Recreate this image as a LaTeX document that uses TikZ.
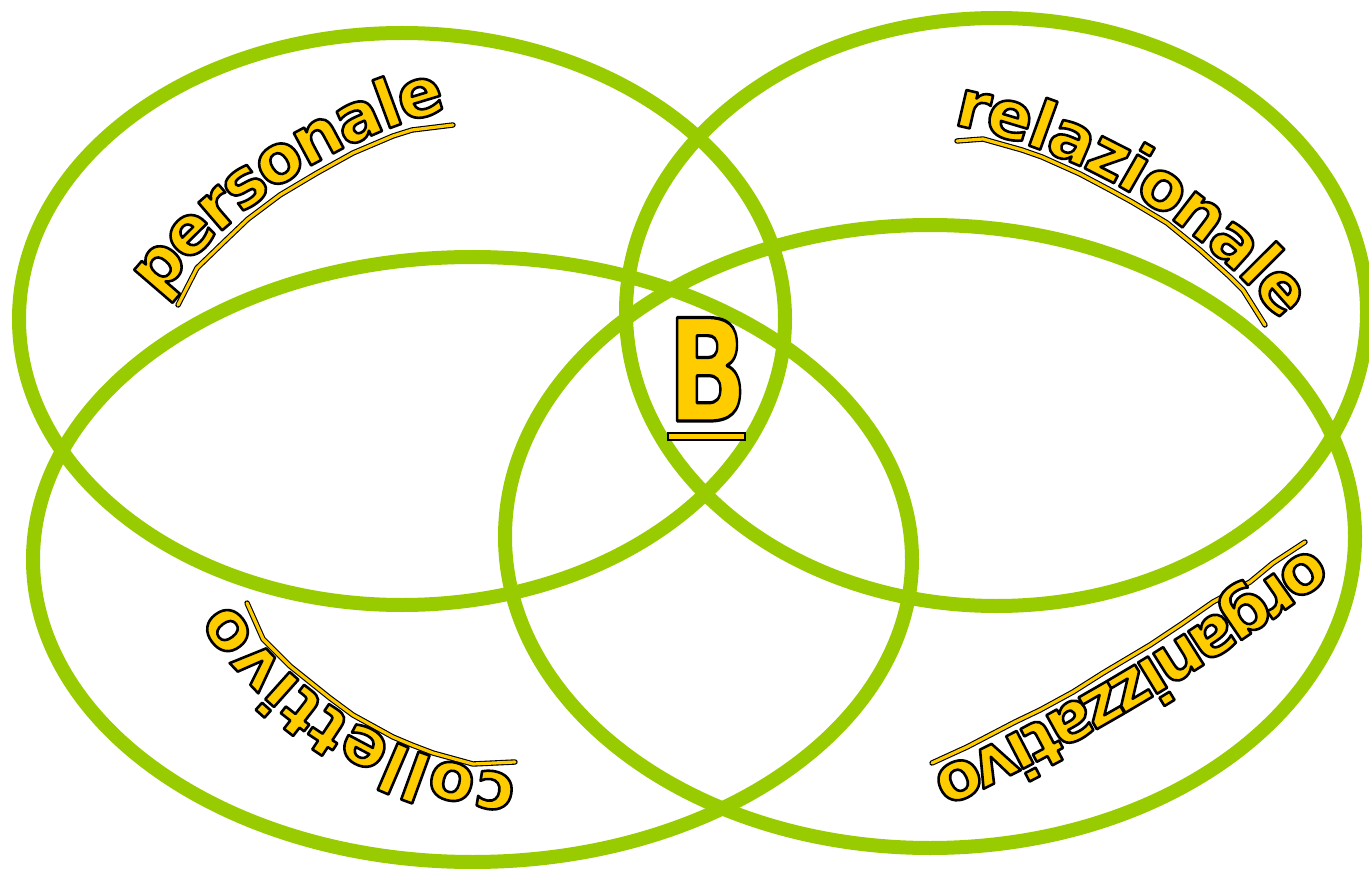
\documentclass[tikz,border=0pt]{standalone}
\usepackage{fontspec}
\newfontfamily\wordfont{DejaVu Sans}
\definecolor{vgreen}{HTML}{99CC00}
\definecolor{ylw}{HTML}{FFCC00}
% filled + stroked text (text render mode 2)
\newcommand\outl[1]{\special{pdf:literal direct 0 0 0 RG 2 Tr #1 w 1 j}}
\newcommand\outloff{\special{pdf:literal direct 0 Tr}}
\newcommand\awsel{\wordfont\bfseries\fontsize{67}{67}\selectfont}
% advance widths (em) of DejaVu Sans Bold
\makeatletter
\def\awdef#1#2{\expandafter\def\csname awwd@#1\endcsname{#2}}
\awdef{a}{0.675}\awdef{c}{0.593}\awdef{e}{0.678}\awdef{g}{0.716}
\awdef{i}{0.343}\awdef{l}{0.343}\awdef{n}{0.712}\awdef{o}{0.687}
\awdef{p}{0.716}\awdef{r}{0.493}\awdef{s}{0.595}\awdef{t}{0.478}
\awdef{v}{0.652}\awdef{z}{0.560}
\newcommand\awwidth[1]{\csname awwd@#1\endcsname}
\makeatother
% #1 cx, #2 cy, #3 baseline radius, #4 angle of first letter, #5 angle of last letter, #6 letters, #7 name prefix
\newcommand\arcword[7]{%
  \gdef\awW{0}%
  \foreach \awc [count=\awk] in {#6}{%
    \edef\awcw{\awwidth{\awc}}%
    \ifnum\awk=1 \xdef\awfirst{\awcw}\fi
    \xdef\awlast{\awcw}%
    \pgfmathsetmacro\awtmp{\awW+\awcw}\xdef\awW{\awtmp}%
  }%
  \pgfmathsetmacro\awca{\awfirst/2}%
  \pgfmathsetmacro\awcb{\awW-\awlast/2}%
  \gdef\awS{0}%
  \foreach \awc [count=\awk] in {#6}{%
    \edef\awcw{\awwidth{\awc}}%
    \pgfmathsetmacro\awang{#4+(\awS+\awcw/2-\awca)/(\awcb-\awca)*(#5-#4)}%
    \pgfmathsetmacro\awx{#1+#3*cos(\awang)}%
    \pgfmathsetmacro\awy{#2+#3*sin(\awang)}%
    \pgfmathsetmacro\awrot{-\awang-90}%
    \node[letter,rotate=\awrot] (#7\awk) at (\awx,\awy) {\outl{2.6}\awc\outloff};
    \pgfmathsetmacro\awtmp{\awS+\awcw}\xdef\awS{\awtmp}%
  }%
}
\begin{document}
\begin{tikzpicture}[x=1pt,y=-1pt,
  ring/.style={draw=vgreen, line width=14pt},
  letter/.style={anchor=base, inner sep=0pt, text=ylw, font=\awsel},
  pathline/.style={draw=black, line width=1.1pt, double=ylw, double distance=3.2pt, line join=round, line cap=round}]
\path[fill=white, use as bounding box] (0,0) rectangle (1369,869);
% four rings
\draw[ring] (402,319) ellipse [x radius=383pt, y radius=286pt];
\draw[ring] (996.5,312) ellipse [x radius=370.5pt, y radius=294pt];
\draw[ring] (472.5,559.5) ellipse [x radius=439.5pt, y radius=302.5pt];
\draw[ring] (930,536.5) ellipse [x radius=425pt, y radius=311.5pt];
% text paths
\draw[pathline] (178,305) -- (197,268) -- (226,240) -- (248,219) -- (280,195) -- (317,173) -- (353,153) -- (393,136) -- (412,130) -- (453,125);
\draw[pathline] (957,141) -- (983,139) -- (1022,150) -- (1042,157) -- (1080,174) -- (1112,191) -- (1132,202) -- (1167,223) -- (1200,250) -- (1230,277) -- (1243,290) -- (1265,325);
\draw[pathline] (247,603) -- (263,639) -- (290,666) -- (305,678) -- (330,698) -- (353,715) -- (393,737) -- (412,745) -- (433,753) -- (473,764) -- (515,762);
\draw[pathline] (1305,542) -- (1273,563) -- (1250,582) -- (1213,602) -- (1183,623) -- (1150,645) -- (1103,673) -- (1073,692) -- (1040,710) -- (1015,722) -- (967,747) -- (932,763);
% words
\arcword{581}{630}{537}{220.7}{253.2}{p,e,r,s,o,n,a,l,e}{per}
\arcword{840.6}{683.6}{570}{283.0}{318.3}{r,e,l,a,z,i,o,n,a,l,e}{rel}
\arcword{560.7}{377.7}{400}{99.1}{142.8}{c,o,l,l,e,t,t,i,v,o}{col}
\arcword{4.5}{-1206.5}{2186}{53.9}{64.34}{o,r,g,a,n,i,z,z,a,t,i,v,o}{org}
% B
\node (B) [anchor=base, inner sep=0pt, text=ylw, xscale=0.74,
  font=\wordfont\bfseries\fontsize{142}{142}\selectfont] at (707.5,421) {\outl{3.2}B\outloff};
\node (bar) [draw=black, fill=ylw, line width=1.2pt, inner sep=0pt, minimum width=77pt, minimum height=7pt] at (706.5,436.5) {};
\end{tikzpicture}
\end{document}
